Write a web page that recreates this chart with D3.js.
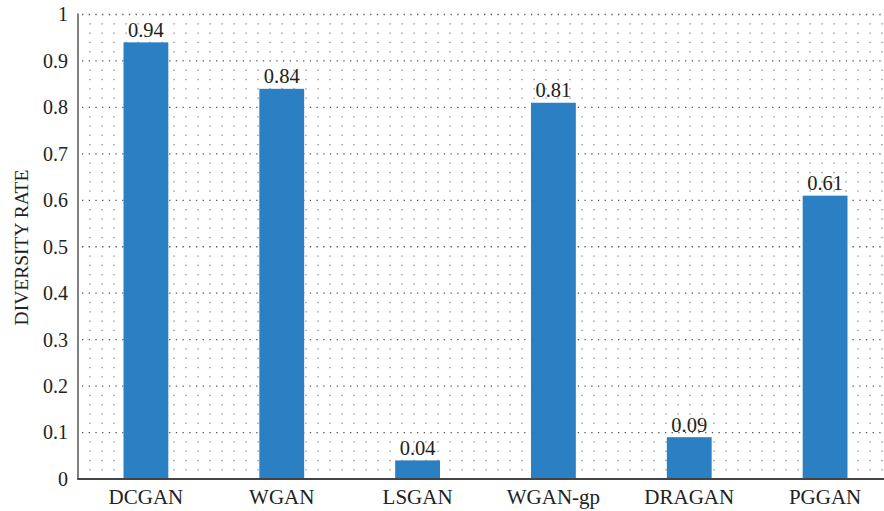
<!DOCTYPE html>
<html>
<head>
<meta charset="utf-8">
<script src="https://cdn.jsdelivr.net/npm/d3@7"></script>
<style>
  html, body { margin: 0; padding: 0; background: #fff; }
  svg { display: block; }
</style>
</head>
<body>
<svg id="chart" width="884" height="511" style="font-family:'Liberation Serif',serif"></svg>
<script>
const categories = ["DCGAN", "WGAN", "LSGAN", "WGAN-gp", "DRAGAN", "PGGAN"];
const values = [0.94, 0.84, 0.04, 0.81, 0.09, 0.61];
const valueLabels = ["0.94", "0.84", "0.04", "0.81", "0.09", "0.61"];
const yTicks = [0, 0.1, 0.2, 0.3, 0.4, 0.5, 0.6, 0.7, 0.8, 0.9, 1];
const yTickLabels = ["0", "0.1", "0.2", "0.3", "0.4", "0.5", "0.6", "0.7", "0.8", "0.9", "1"];
const yTitle = "DIVERSITY RATE";

(function () {
const W = 884, H = 511;
const mLeft = 78, mRight = 893, mTop = 14.5, mBottom = 479;
const FONT = "'Liberation Serif', serif";

const svg = d3.select("#chart");
const x = d3.scaleBand().domain(categories).range([mLeft, mRight]).paddingInner(0.67).paddingOuter(0.335);
const y = d3.scaleLinear().domain([0, 1]).range([mBottom, mTop]);

// minor dotted grid (vertical columns of dots at minor y positions)
const minorY = d3.range(0, 51).map(i => i / 50).filter(v => Math.round(v * 50) % 5 !== 0);
const colX = d3.range(mLeft + 12, W, 12);
const gGrid = svg.append("g");
colX.forEach(cx => {
  gGrid.selectAll(null).data(minorY).join("rect")
    .attr("x", cx - 0.6).attr("y", d => y(d) - 0.6)
    .attr("width", 1.3).attr("height", 1.3)
    .attr("fill", "#8a8a8a");
});
// major dotted horizontal lines
gGrid.selectAll("line.major").data(yTicks.slice(1)).join("line")
  .attr("class", "major")
  .attr("x1", mLeft + 4).attr("x2", W)
  .attr("y1", d => y(d)).attr("y2", d => y(d))
  .attr("stroke", "#555").attr("stroke-width", 1.3)
  .attr("stroke-dasharray", "1.3,5.4");

// bars
svg.append("g").selectAll("rect").data(categories).join("rect")
  .attr("x", d => x(d))
  .attr("width", x.bandwidth())
  .attr("y", (d, i) => y(values[i]))
  .attr("height", (d, i) => y(0) - y(values[i]))
  .attr("fill", "#2a80c2");

// value labels
svg.append("g").selectAll("text").data(categories).join("text")
  .attr("x", d => x(d) + x.bandwidth() / 2)
  .attr("y", (d, i) => y(values[i]) - 5.5)
  .attr("text-anchor", "middle")
  .style("font-family", FONT)
  .style("font-size", "20.5px")
  .style("fill", "#222")
  .text((d, i) => valueLabels[i]);

// axes
const yAxis = d3.axisLeft(y).tickValues(yTicks).tickFormat((d, i) => yTickLabels[i]).tickSize(0).tickPadding(10);
const gy = svg.append("g").attr("transform", `translate(${mLeft},0)`).call(yAxis);
gy.attr("font-family", null);
gy.select(".domain").remove();
gy.selectAll("text").style("font-family", FONT).style("font-size", "20px").style("fill", "#222");

const xAxis = d3.axisBottom(x).tickSize(0).tickPadding(10);
const gx = svg.append("g").attr("transform", `translate(0,${mBottom})`).call(xAxis);
gx.attr("font-family", null);
gx.select(".domain").remove();
gx.selectAll("text").style("font-family", FONT).style("font-size", "21px").style("fill", "#222");

svg.append("line").attr("x1", mLeft).attr("x2", mLeft).attr("y1", mTop - 1).attr("y2", mBottom)
  .attr("stroke", "#555").attr("stroke-width", 1.5);
svg.append("line").attr("x1", mLeft - 0.75).attr("x2", W).attr("y1", mBottom).attr("y2", mBottom)
  .attr("stroke", "#444").attr("stroke-width", 2);

// y title
svg.append("text")
  .attr("transform", `translate(28,247.5) rotate(-90)`)
  .attr("text-anchor", "middle")
  .style("font-family", FONT)
  .style("font-size", "19.5px")
  .style("fill", "#222")
  .text(yTitle);
})();
</script>
</body>
</html>
